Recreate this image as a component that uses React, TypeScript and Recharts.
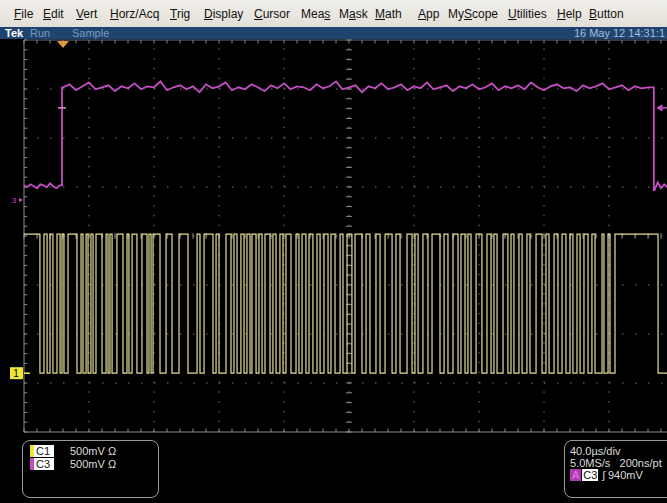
import React from 'react';
import {
  ComposedChart,
  Line,
  XAxis,
  YAxis,
  ReferenceLine,
  ReferenceDot
} from 'recharts';

// scope setup
const timePerDiv = 40; // µs/div
const voltsPerDiv = 0.5; // 500mV/div on both channels
const majorX = [0, 40, 80, 120, 160, 200, 240, 280, 320, 360, 400];
const majorY = [-4, -3, -2, -1, 0, 1, 2, 3, 4];

// channel ground markers, in divisions from screen centre
const ch1Offset = -2.8;
const ch3Offset = 0.735;

// C1 (yellow) logic levels, V
const ch1LowV = 0.0;
const ch1HighV = 1.42;

// C1 low periods [start, end] in µs, the line idles high in between
const ch1LowIntervals: [number, number][] = [
  [9.8, 12.3], [14.2, 16.0], [17.8, 20.3], [22.2, 23.4], [24.6, 27.1],
  [32.6, 35.1], [36.3, 38.2], [39.4, 41.2], [42.5, 44.3],
  [48.0, 50.5], [51.7, 52.9], [54.2, 57.2],
  [60.9, 63.4], [64.6, 66.5], [69.5, 72.6],
  [75.7, 76.9], [78.2, 79.4], [83.7, 87.4], [91.1, 95.4],
  [100.9, 106.5], [108.3, 110.8],
  [116.3, 118.2], [120.0, 124.3], [127.4, 129.2], [131.1, 133.5],
  [135.4, 137.2], [139.1, 140.3], [142.8, 144.6], [146.5, 148.3], [151.4, 153.2],
  [155.1, 157.5], [159.4, 161.2], [164.3, 167.4], [169.2, 171.1], [173.5, 175.4],
  [177.8, 180.3], [182.2, 184.6], [187.1, 188.9], [191.4, 194.5], [196.3, 198.8],
  [201.8, 203.7], [208.0, 210.5], [212.9, 216.6], [219.1, 222.2], [226.5, 228.9],
  [231.4, 235.7], [238.8, 240.6], [242.5, 245.5], [248.6, 251.1], [256.0, 258.5],
  [260.9, 264.0], [267.1, 268.9],
  [271.4, 273.2], [275.1, 278.2], [281.8, 284.9], [287.4, 289.2], [291.1, 294.8],
  [297.8, 299.7], [301.5, 304.6], [306.5, 309.5], [311.4, 315.1], [318.8, 321.2],
  [323.1, 326.2], [328.6, 331.1], [333.5, 336.0],
  [337.8, 340.3], [342.2, 344.6], [347.1, 349.5], [351.4, 355.7], [356.9, 359.4],
  [360.6, 363.7],
  [390.2, 400]
];

// C3 (magenta) gate signal
const ch3RiseAt = 23.4;
const ch3FallAt = 387.6;
// sampled every 2 µs from 0
const ch3LowBefore = [0.15, 0.13, 0.16, 0.14, 0.12, 0.16, 0.15, 0.13, 0.17, 0.14, 0.12, 0.15];
// sampled every 4 µs from 24
const ch3High = [
  1.15, 1.18, 1.12, 1.16, 1.20, 1.13, 1.15, 1.17, 1.11, 1.16,
  1.14, 1.19, 1.13, 1.16, 1.15, 1.21, 1.12, 1.15, 1.17, 1.13,
  1.16, 1.10, 1.18, 1.14, 1.16, 1.20, 1.12, 1.15, 1.13, 1.18,
  1.15, 1.11, 1.17, 1.14, 1.19, 1.13, 1.16, 1.15, 1.12, 1.18,
  1.14, 1.16, 1.21, 1.13, 1.15, 1.17, 1.10, 1.16, 1.14, 1.19,
  1.13, 1.15, 1.18, 1.12, 1.16, 1.14, 1.20, 1.13, 1.15, 1.17,
  1.11, 1.16, 1.14, 1.18, 1.13, 1.15, 1.19, 1.12, 1.16, 1.14,
  1.17, 1.13, 1.20, 1.15, 1.12, 1.16, 1.18, 1.14, 1.15, 1.11,
  1.17, 1.14, 1.16, 1.19, 1.13, 1.15, 1.17, 1.12, 1.16, 1.14,
  1.15
];
// sampled every 2 µs from 388
const ch3LowAfter = [0.10, 0.18, 0.12, 0.16, 0.13, 0.15, 0.14];

const triggerTime = 24; // µs
const triggerLevel = 0.94; // V on C3

const menuItems = ['File', 'Edit', 'Vert', 'Horz/Acq', 'Trig', 'Display', 'Cursor', 'Meas', 'Mask', 'Math', 'App', 'MyScope', 'Utilities', 'Help', 'Button'];
const menuHotkey = [0, 0, 0, 0, 0, 0, 0, 3, 1, 0, 0, 2, 0, 0, 0];
const menuLeft = [14, 43, 76, 110, 170, 204, 254, 301, 339, 375, 418, 448, 508, 557, 589];

const toDiv = (v: number, offset: number) => v / voltsPerDiv + offset;

const ch1Data = (() => {
  const hi = toDiv(ch1HighV, ch1Offset);
  const lo = toDiv(ch1LowV, ch1Offset);
  const pts = [{ t: 0, y: hi }];
  ch1LowIntervals.forEach(([a, b]) => {
    pts.push({ t: a, y: hi }, { t: a, y: lo });
    if (b >= 400) pts.push({ t: 400, y: lo });
    else pts.push({ t: b, y: lo }, { t: b, y: hi });
  });
  return pts;
})();

const ch3Data = [
  ...ch3LowBefore.map((v, i) => ({ t: i * 2, y: toDiv(v, ch3Offset) })),
  { t: ch3RiseAt, y: toDiv(ch3LowBefore[ch3LowBefore.length - 1], ch3Offset) },
  { t: ch3RiseAt, y: toDiv(ch3High[0], ch3Offset) },
  ...ch3High.map((v, i) => ({ t: 24 + i * 4, y: toDiv(v, ch3Offset) })),
  { t: ch3FallAt, y: toDiv(ch3High[ch3High.length - 1], ch3Offset) },
  { t: ch3FallAt, y: toDiv(ch3LowAfter[0], ch3Offset) },
  ...ch3LowAfter.map((v, i) => ({ t: 388 + i * 2, y: toDiv(v, ch3Offset) }))
];

// minor graticule ticks, 5 per division
const minorX = Array.from({ length: 51 }, (_, i) => i * (timePerDiv / 5));
const minorY = Array.from({ length: 41 }, (_, i) => -4 + i * 0.2);

const tickColor = '#8c8c8c';
const gridColor = '#7a7a7a';
const sans = '"Liberation Sans", Arial, sans-serif';

export default function App() {
  const trigDiv = toDiv(triggerLevel, ch3Offset);
  return (
    <div style={{ position: 'fixed', left: 0, top: 0, width: 667, height: 503, overflow: 'hidden', background: '#000', fontFamily: sans }}>
      {/* menu bar */}
      <div style={{ position: 'absolute', left: 0, top: 0, width: 667, height: 27, background: 'linear-gradient(#f1efea, #e2dfd8)' }}>
        {menuItems.map((m, i) => (
          <span key={m} style={{ position: 'absolute', left: menuLeft[i], top: 7, fontSize: 12, color: '#111', whiteSpace: 'nowrap' }}>
            {m.slice(0, menuHotkey[i])}
            <span style={{ textDecoration: 'underline' }}>{m[menuHotkey[i]]}</span>
            {m.slice(menuHotkey[i] + 1)}
          </span>
        ))}
      </div>
      {/* status bar */}
      <div style={{ position: 'absolute', left: 0, top: 27, width: 667, height: 12, background: '#1f4470', fontSize: 11, lineHeight: '12px' }}>
        <span style={{ position: 'absolute', left: 5, color: '#fff', fontWeight: 'bold' }}>Tek</span>
        <span style={{ position: 'absolute', left: 30, color: '#7d98bd' }}>Run</span>
        <span style={{ position: 'absolute', left: 72, color: '#7d98bd' }}>Sample</span>
        <span style={{ position: 'absolute', right: 2, color: '#a8bcd6', whiteSpace: 'nowrap' }}>16 May 12 14:31:1</span>
      </div>

      <div style={{ position: 'absolute', left: 0, top: 0 }}>
        <ComposedChart width={700} height={470} margin={{ top: 40, right: 26, bottom: 38, left: 24 }}>
          <XAxis dataKey="t" type="number" domain={[0, 400]} ticks={majorX} allowDataOverflow hide />
          <YAxis type="number" domain={[-4, 4]} ticks={majorY} allowDataOverflow hide />

          {/* dotted graticule */}
          {majorY.slice(1, -1).map((v) => (
            <ReferenceLine key={'gy' + v} y={v} stroke={gridColor} strokeDasharray="1.5 11.5" />
          ))}
          {majorX.slice(1).map((t) => (
            <ReferenceLine key={'gx' + t} x={t} stroke={gridColor} strokeDasharray="1.5 8.3" />
          ))}

          {/* borders */}
          <ReferenceLine x={0} stroke={tickColor} />
          <ReferenceLine y={4} stroke="#5d6f86" />
          <ReferenceLine y={-4} stroke={tickColor} />

          {minorX.map((t) => (
            <ReferenceLine key={'tt' + t} segment={[{ x: t, y: 4 }, { x: t, y: 3.93 }]} stroke={tickColor} />
          ))}
          {minorX.map((t) => (
            <ReferenceLine key={'bt' + t} segment={[{ x: t, y: -4 }, { x: t, y: -3.93 }]} stroke={tickColor} />
          ))}
          {minorX.map((t) => (
            <ReferenceLine key={'ct' + t} segment={[{ x: t, y: -0.06 }, { x: t, y: 0.06 }]} stroke={tickColor} />
          ))}
          {minorY.map((v) => (
            <ReferenceLine key={'lt' + v} segment={[{ x: 0, y: v }, { x: 2, y: v }]} stroke={tickColor} />
          ))}
          {minorY.map((v) => (
            <ReferenceLine key={'mt' + v} segment={[{ x: 198.2, y: v }, { x: 201.8, y: v }]} stroke={tickColor} />
          ))}

          <Line data={ch3Data} dataKey="y" type="linear" dot={false} stroke="#c44ec4" strokeWidth={1.8} isAnimationActive={false} />
          <Line data={ch1Data} dataKey="y" type="linear" dot={false} stroke="#e4dd98" strokeWidth={1.2} isAnimationActive={false} />

          {/* trigger position */}
          <ReferenceDot
            x={triggerTime}
            y={4}
            ifOverflow="visible"
            shape={(p: any) => (
              <polygon points={`${p.cx - 6},${p.cy + 1} ${p.cx + 6},${p.cy + 1} ${p.cx},${p.cy + 8}`} fill="#e29a3e" />
            )}
          />
          {/* trigger point on C3 */}
          <ReferenceDot
            x={triggerTime}
            y={trigDiv}
            ifOverflow="visible"
            shape={(p: any) => (
              <line x1={p.cx - 5} x2={p.cx + 3} y1={p.cy} y2={p.cy} stroke="#e08ae0" strokeWidth={1.5} />
            )}
          />
          {/* trigger level arrow, right edge */}
          <ReferenceDot
            x={400}
            y={trigDiv}
            ifOverflow="visible"
            shape={(p: any) => (
              <g stroke="#c44ec4" fill="#c44ec4">
                <line x1={p.cx - 16} x2={p.cx - 4} y1={p.cy} y2={p.cy} strokeWidth={1.5} />
                <polygon points={`${p.cx - 17},${p.cy} ${p.cx - 12},${p.cy - 3} ${p.cx - 12},${p.cy + 3}`} />
              </g>
            )}
          />
          {/* channel ground markers */}
          <ReferenceDot
            x={0}
            y={ch1Offset}
            ifOverflow="visible"
            shape={(p: any) => (
              <g>
                <rect x={p.cx - 14} y={p.cy - 6} width={13} height={12} fill="#efe43a" />
                <text x={p.cx - 8} y={p.cy + 4} fontSize={10} textAnchor="middle" fill="#000" fontFamily={sans}>1</text>
                <line x1={p.cx} x2={p.cx + 6} y1={p.cy} y2={p.cy} stroke="#efe43a" strokeWidth={1.5} />
              </g>
            )}
          />
          <ReferenceDot
            x={0}
            y={ch3Offset}
            ifOverflow="visible"
            shape={(p: any) => (
              <g>
                <text x={p.cx - 10} y={p.cy + 3} fontSize={8} textAnchor="middle" fill="#c44ec4" fontFamily={sans}>3</text>
                <polygon points={`${p.cx - 5},${p.cy - 2} ${p.cx - 5},${p.cy + 2} ${p.cx - 1},${p.cy}`} fill="#c44ec4" />
              </g>
            )}
          />
        </ComposedChart>
      </div>

      {/* channel readouts */}
      <div style={{ position: 'absolute', left: 22, top: 440, width: 137, height: 58, border: '1.5px solid #9a9a9a', borderRadius: 8, boxSizing: 'border-box' }} />
      <div style={{ position: 'absolute', left: 30, top: 445, fontSize: 11, color: '#ddd', lineHeight: '12px' }}>
        <div style={{ display: 'flex', alignItems: 'center', marginBottom: 1 }}>
          <span style={{ background: '#fff', color: '#111', borderLeft: '4px solid #efe43a', padding: '0 2px', width: 16 }}>C1</span>
          <span style={{ marginLeft: 16 }}>500mV Ω</span>
        </div>
        <div style={{ display: 'flex', alignItems: 'center' }}>
          <span style={{ background: '#fff', color: '#111', borderLeft: '4px solid #c44ec4', padding: '0 2px', width: 16 }}>C3</span>
          <span style={{ marginLeft: 16 }}>500mV Ω</span>
        </div>
      </div>
      <div style={{ position: 'absolute', left: 564, top: 440, width: 120, height: 58, border: '1.5px solid #9a9a9a', borderRadius: 8, boxSizing: 'border-box' }} />
      <div style={{ position: 'absolute', left: 570, top: 445, fontSize: 11, color: '#ddd', lineHeight: '12px', whiteSpace: 'nowrap' }}>
        <div>{timePerDiv.toFixed(1)}µs/div</div>
        <div>5.0MS/s&nbsp;&nbsp;&nbsp;200ns/pt</div>
        <div style={{ display: 'flex', alignItems: 'center' }}>
          <span style={{ background: '#b03cb0', color: '#e07ae0', padding: '0 2px' }}>A</span>
          <span style={{ background: '#fff', color: '#111', padding: '0 1px', marginLeft: 1 }}>C3</span>
          <span style={{ marginLeft: 4 }}>ʃ 940mV</span>
        </div>
      </div>
    </div>
  );
}
